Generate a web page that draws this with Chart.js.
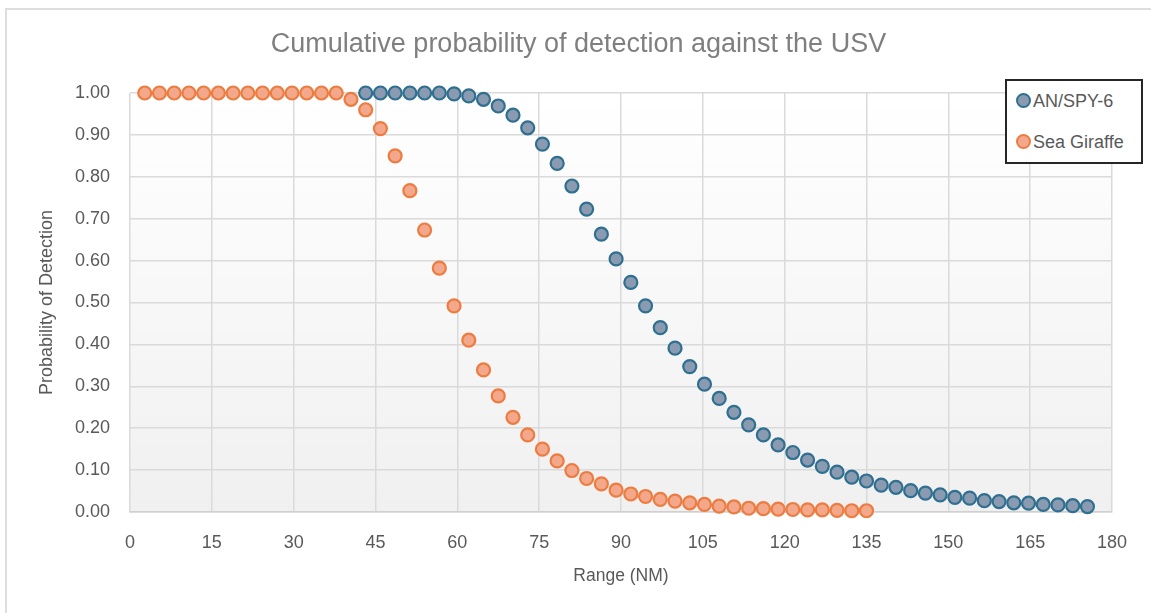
<!DOCTYPE html>
<html>
<head>
<meta charset="utf-8">
<script src="https://cdn.jsdelivr.net/npm/chart.js@4.4.1/dist/chart.umd.min.js"></script>
<style>
  html, body { margin: 0; padding: 0; background: #ffffff; }
  #wrap { position: relative; width: 1151px; height: 613px; overflow: hidden; }
  #frame { position: absolute; left: 5px; top: 8px; right: -10px; bottom: -10px;
           border-top: 2px solid #dedede; border-left: 2px solid #dedede; }
  canvas { position: absolute; left: 0; top: 0; }
  #title { position: absolute; left: 0; width: 1157px; top: 28px; text-align: center;
           font-family: "Liberation Sans", sans-serif;
           font-size: 27px; color: #7f7f7f; white-space: nowrap; }
  #legend { position: absolute; left: 1005px; top: 79px; width: 134px; height: 81px;
            border: 2px solid #262626; background: #ffffff;
            font-family: "Liberation Sans", sans-serif; font-size: 18px; color: #595959; }
  .item { position: absolute; left: 9px; height: 20px; line-height: 20px; white-space: nowrap; }
  .dot { display: inline-block; width: 11px; height: 11px; border-radius: 50%;
         vertical-align: -1px; margin-right: 2px; }
</style>
</head>
<body>
<div id="wrap">
  <div id="frame"></div>
  <canvas id="c" width="1151" height="613"></canvas>
  <div id="title">Cumulative probability of detection against the USV</div>
  <div id="legend">
    <div class="item" style="top:10px"><span class="dot" id="d0"></span><span id="l0"></span></div>
    <div class="item" style="top:51px"><span class="dot" id="d1"></span><span id="l1"></span></div>
  </div>
</div>
<script>
// ---- data ----
const seriesNames = ["AN/SPY-6", "Sea Giraffe"];

// range steps (NM)
const rangeNM = [2.7, 5.4, 8.1, 10.8, 13.5, 16.2, 18.9, 21.6, 24.3, 27.0,
  29.7, 32.4, 35.1, 37.8, 40.5, 43.2, 45.9, 48.6, 51.3, 54.0,
  56.7, 59.4, 62.1, 64.8, 67.5, 70.2, 72.9, 75.6, 78.3, 81.0,
  83.7, 86.4, 89.1, 91.8, 94.5, 97.2, 99.9, 102.6, 105.3, 108.0,
  110.7, 113.4, 116.1, 118.8, 121.5, 124.2, 126.9, 129.6, 132.3, 135.0,
  137.7, 140.4, 143.1, 145.8, 148.5, 151.2, 153.9, 156.6, 159.3, 162.0,
  164.7, 167.4, 170.1, 172.8, 175.5];

// AN/SPY-6 : ranges 43.2 .. 175.5 NM
const spyRange = rangeNM.slice(15, 65);
const spyPd = [1.000, 1.000, 1.000, 1.000, 1.000, 1.000, 0.998, 0.993, 0.985, 0.969,
  0.947, 0.917, 0.878, 0.832, 0.778, 0.723, 0.663, 0.604, 0.548, 0.492,
  0.440, 0.391, 0.347, 0.305, 0.271, 0.238, 0.208, 0.184, 0.160, 0.142,
  0.124, 0.109, 0.095, 0.083, 0.074, 0.064, 0.059, 0.051, 0.045, 0.041,
  0.035, 0.033, 0.027, 0.025, 0.022, 0.021, 0.018, 0.017, 0.015, 0.013];

// Sea Giraffe : ranges 2.7 .. 135.0 NM
const sgRange = rangeNM.slice(0, 50);
const sgPd = [1.000, 1.000, 1.000, 1.000, 1.000, 1.000, 1.000, 1.000, 1.000, 1.000,
  1.000, 1.000, 1.000, 1.000, 0.985, 0.960, 0.915, 0.850, 0.767, 0.673,
  0.582, 0.492, 0.410, 0.339, 0.277, 0.226, 0.184, 0.150, 0.122, 0.099,
  0.080, 0.067, 0.052, 0.043, 0.037, 0.030, 0.026, 0.022, 0.018, 0.014,
  0.012, 0.009, 0.008, 0.007, 0.006, 0.005, 0.005, 0.004, 0.003, 0.003];

const xTicks = [0, 15, 30, 45, 60, 75, 90, 105, 120, 135, 150, 165, 180];
const yTicks = [0, 0.1, 0.2, 0.3, 0.4, 0.5, 0.6, 0.7, 0.8, 0.9, 1.0];

const xTitle = "Range (NM)";
const yTitle = "Probability of Detection";

// ---- styles ----
const blueFill = "#8a9bb1", blueLine = "#2f6f90";
const orangeFill = "#f3a78b", orangeLine = "#ec7c3f";
const gridColor = "#dadada";
const textColor = "#595959";
const fontFam = "'Liberation Sans', Arial, sans-serif";

document.getElementById('l0').textContent = seriesNames[0];
document.getElementById('l1').textContent = seriesNames[1];
const d0 = document.getElementById('d0'), d1 = document.getElementById('d1');
d0.style.background = blueFill; d0.style.border = "2px solid " + blueLine;
d1.style.background = orangeFill; d1.style.border = "2px solid " + orangeLine;

const toPts = (xs, ys) => xs.map((x, i) => ({ x: x, y: ys[i] }));

const bgPlugin = {
  id: 'plotBg',
  beforeDraw(chart) {
    const { ctx, chartArea: a } = chart;
    const g = ctx.createLinearGradient(0, a.top, 0, a.bottom);
    g.addColorStop(0, '#ffffff');
    g.addColorStop(1, '#f0f0f0');
    ctx.save();
    ctx.fillStyle = g;
    ctx.fillRect(a.left, a.top, a.right - a.left, a.bottom - a.top);
    ctx.restore();
  }
};

new Chart(document.getElementById('c'), {
  type: 'scatter',
  data: {
    datasets: [
      { label: seriesNames[0], data: toPts(spyRange, spyPd),
        backgroundColor: blueFill, borderColor: blueLine,
        pointRadius: 6.5, pointBorderWidth: 2.2, clip: false, order: 0 },
      { label: seriesNames[1], data: toPts(sgRange, sgPd),
        backgroundColor: orangeFill, borderColor: orangeLine,
        pointRadius: 6.5, pointBorderWidth: 2.2, clip: false, order: 1 }
    ]
  },
  options: {
    responsive: false,
    animation: false,
    events: [],
    layout: { padding: { left: 0, right: 39, top: 93, bottom: 0 } },
    plugins: {
      legend: { display: false },
      title: { display: false },
      tooltip: { enabled: false }
    },
    scales: {
      x: {
        type: 'linear', min: 0, max: 180,
        afterBuildTicks: s => { s.ticks = xTicks.map(v => ({ value: v })); },
        afterFit: s => { s.height = 101; },
        grid: { color: gridColor, lineWidth: 1.5, drawTicks: false },
        border: { display: true, color: '#d0d0d0', width: 1.5 },
        ticks: { padding: 20, color: textColor, font: { family: fontFam, size: 18 } },
        title: { display: true, text: xTitle, color: textColor,
                 font: { family: fontFam, size: 17.5 }, padding: { top: 0, bottom: 26 } }
      },
      y: {
        type: 'linear', min: 0, max: 1,
        afterBuildTicks: s => { s.ticks = yTicks.map(v => ({ value: v })); },
        afterFit: s => { s.width = 130; },
        grid: { color: gridColor, lineWidth: 1.5, drawTicks: false },
        border: { display: false },
        ticks: { padding: 20, color: textColor, font: { family: fontFam, size: 18 },
                 callback: v => Number(v).toFixed(2) },
        title: { display: true, text: yTitle, color: textColor,
                 font: { family: fontFam, size: 18 }, padding: { top: 36, bottom: 0 } }
      }
    }
  },
  plugins: [bgPlugin]
});
</script>
</body>
</html>
